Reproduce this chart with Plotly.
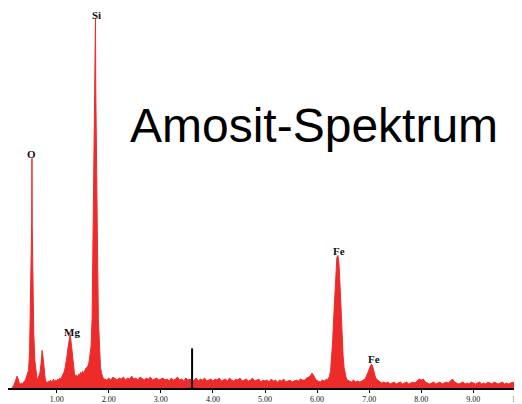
import plotly.graph_objects as go

# Energy (keV) and counts (relative intensity)
energy = [
    0.14, 0.16, 0.18, 0.20, 0.22, 0.24, 0.26, 0.28, 0.30, 0.32, 0.34, 0.36, 0.38, 0.40,
    0.42, 0.44, 0.46, 0.48, 0.49, 0.50, 0.51, 0.52, 0.525, 0.53, 0.54, 0.55, 0.56, 0.58,
    0.60, 0.62, 0.64, 0.66, 0.68, 0.70, 0.72, 0.74, 0.76, 0.78, 0.80,
    0.82, 0.84, 0.86, 0.88, 0.90, 0.92, 0.94, 0.96, 0.98, 1.00, 1.02, 1.04, 1.06, 1.08,
    1.10, 1.12, 1.14, 1.16, 1.18, 1.20, 1.22, 1.24, 1.26, 1.28, 1.30, 1.32, 1.34, 1.36,
    1.38, 1.40, 1.42, 1.44, 1.46, 1.48, 1.50, 1.52, 1.54, 1.56, 1.58,
    1.60, 1.62, 1.64, 1.66, 1.68, 1.70, 1.72, 1.73, 1.74, 1.745, 1.75, 1.76, 1.78, 1.80,
    1.82, 1.84, 1.86, 1.88, 1.90,
    1.92, 1.96, 2.00, 2.04, 2.08, 2.12, 2.16, 2.20, 2.24, 2.28, 2.32, 2.36, 2.40, 2.44,
    2.48, 2.52, 2.56, 2.60, 2.64, 2.68, 2.72, 2.76, 2.80, 2.84, 2.88, 2.92, 2.96, 3.00,
    3.04, 3.08, 3.12, 3.16, 3.20, 3.24, 3.28, 3.32, 3.36, 3.40, 3.44, 3.48, 3.52, 3.56,
    3.60, 3.64, 3.68, 3.72, 3.76, 3.80, 3.84, 3.88, 3.92, 3.96, 4.00,
    4.04, 4.08, 4.12, 4.16, 4.20, 4.24, 4.28, 4.32, 4.36, 4.40, 4.44, 4.48, 4.52, 4.56,
    4.60, 4.64, 4.68, 4.72, 4.76, 4.80, 4.84, 4.88, 4.92, 4.96, 5.00,
    5.04, 5.08, 5.12, 5.16, 5.20, 5.24, 5.28, 5.32, 5.36, 5.40, 5.44, 5.48, 5.52, 5.56,
    5.60, 5.64, 5.68, 5.72, 5.76, 5.80, 5.84, 5.88, 5.90, 5.92, 5.94, 5.98,
    6.02, 6.06, 6.10, 6.14, 6.18, 6.20, 6.22, 6.24, 6.26, 6.28, 6.30, 6.32, 6.34, 6.36,
    6.38, 6.40, 6.42, 6.44, 6.46, 6.48, 6.50, 6.52, 6.54, 6.56, 6.58,
    6.62, 6.66, 6.70, 6.74, 6.78, 6.82, 6.86, 6.90, 6.92, 6.94, 6.96, 6.98, 7.00, 7.02,
    7.04, 7.06, 7.08, 7.10, 7.12, 7.14, 7.16,
    7.20, 7.24, 7.28, 7.32, 7.36, 7.40, 7.44, 7.48, 7.52, 7.56, 7.60, 7.64, 7.68, 7.72,
    7.76, 7.80, 7.84, 7.88, 7.92, 7.96, 8.00, 8.04, 8.08, 8.12, 8.16, 8.20, 8.24, 8.28,
    8.32, 8.36, 8.40, 8.44, 8.48, 8.52, 8.56, 8.60, 8.64, 8.68, 8.72, 8.76, 8.80, 8.84,
    8.88, 8.92, 8.96, 9.00, 9.04, 9.08, 9.12, 9.16, 9.20, 9.24, 9.28, 9.32, 9.36, 9.40,
    9.44, 9.48, 9.52, 9.56, 9.60, 9.64, 9.68, 9.72, 9.76, 9.80, 9.84, 9.88, 9.92, 9.94,
]
counts = [
    0, 1, 3, 6, 9, 12, 9, 5, 4, 5, 4, 6, 7, 8,
    11, 13, 18, 38, 60, 92, 135, 167, 232, 165, 125, 85, 55, 28,
    15, 10, 9, 12, 16, 25, 38, 30, 16, 9, 6,
    5, 7, 6, 8, 6, 7, 9, 6, 8, 7, 9, 8, 10, 9,
    11, 13, 16, 20, 25, 33, 42, 50, 54, 45, 32, 22, 15, 12,
    13, 11, 14, 13, 16, 14, 17, 15, 18, 20, 21,
    22, 26, 32, 42, 70, 150, 250, 295, 309, 374, 305, 270, 160, 70,
    35, 22, 15, 11, 9,
    9, 8, 10, 8, 11, 9, 8, 10, 9, 11, 8, 10, 9, 12,
    9, 10, 8, 11, 9, 8, 10, 9, 11, 8, 9, 10, 8, 9,
    10, 8, 9, 7, 10, 8, 9, 11, 8, 9, 7, 10, 8, 9,
    7, 8, 10, 7, 9, 8, 10, 7, 8, 9, 7,
    9, 8, 10, 7, 8, 9, 7, 10, 8, 7, 9, 8, 10, 7,
    8, 9, 7, 8, 10, 7, 8, 9, 6, 8, 7,
    8, 6, 9, 7, 8, 6, 8, 7, 9, 6, 7, 8, 6, 7,
    8, 7, 9, 8, 8, 10, 11, 13, 15, 14, 12, 8,
    7, 6, 8, 7, 9, 8, 10, 12, 18, 30, 48, 72, 98, 120,
    132, 134, 126, 105, 78, 52, 32, 20, 13, 10, 8,
    7, 6, 8, 6, 7, 6, 7, 8, 9, 11, 13, 16, 19, 22,
    24, 23, 19, 14, 11, 9, 8,
    7, 5, 6, 5, 6, 4, 5, 6, 4, 5, 6, 4, 5, 6,
    4, 5, 6, 5, 7, 9, 8, 9, 6, 5, 4, 5, 6, 4,
    5, 6, 4, 5, 6, 5, 7, 9, 6, 5, 4, 5, 6, 4,
    5, 4, 6, 5, 4, 5, 6, 4, 5, 4, 6, 5, 4, 6,
    5, 4, 5, 6, 4, 5, 4, 5, 6, 4, 5, 4, 5, 4,
]

# Peak labels
peak_labels = ["O", "Si", "Mg", "Fe", "Fe"]
peak_energy = [0.52, 1.76, 1.30, 6.42, 7.09]
label_height = [228, 369, 49, 130, 21]

# Marker line
marker_energy = [3.60, 3.60]
marker_counts = [0, 40]

tick_vals = [1, 2, 3, 4, 5, 6, 7, 8, 9]
tick_text = ["1.00", "2.00", "3.00", "4.00", "5.00", "6.00", "7.00", "8.00", "9.00"]

RED = "#EE2B2B"

fig = go.Figure()
fig.add_trace(go.Scatter(
    x=energy, y=counts, mode="lines", fill="tozeroy",
    line=dict(color=RED, width=1), fillcolor=RED, hoverinfo="skip",
))
fig.add_trace(go.Scatter(
    x=marker_energy, y=marker_counts, mode="lines",
    line=dict(color="black", width=2), hoverinfo="skip",
))

for lab, e, h in zip(peak_labels, peak_energy, label_height):
    fig.add_annotation(
        x=e, y=h, xref="x", yref="y", text=f"<b>{lab}</b>", showarrow=False,
        yanchor="bottom", font=dict(family="Liberation Serif", size=11, color="#111"),
    )

fig.add_annotation(
    x=0.5953, y=0.690, xref="paper", yref="paper", text="Amosit-Spektrum",
    showarrow=False, xanchor="center", yanchor="middle",
    font=dict(family="Liberation Sans, Arial", size=48, color="black"),
)
fig.add_annotation(
    x=1.0, y=0, xref="paper", yref="paper", text="10", showarrow=False,
    xanchor="right", yanchor="top", yshift=-5,
    font=dict(family="Liberation Serif", size=8, color="#111"),
)

fig.update_layout(
    width=514, height=396,
    margin=dict(l=0, r=0, t=0, b=12),
    paper_bgcolor="white", plot_bgcolor="white",
    showlegend=False,
    xaxis=dict(
        range=[0.065, 9.935], tickvals=tick_vals, ticktext=tick_text,
        showgrid=False, zeroline=False, showline=True, linecolor="black", linewidth=1.5,
        ticks="outside", ticklen=3, tickcolor="black", tickwidth=1,
        tickfont=dict(family="Liberation Serif", size=8, color="#111"),
    ),
    yaxis=dict(range=[0, 384], visible=False, showgrid=False, zeroline=False),
)

fig.write_html("out.html")
